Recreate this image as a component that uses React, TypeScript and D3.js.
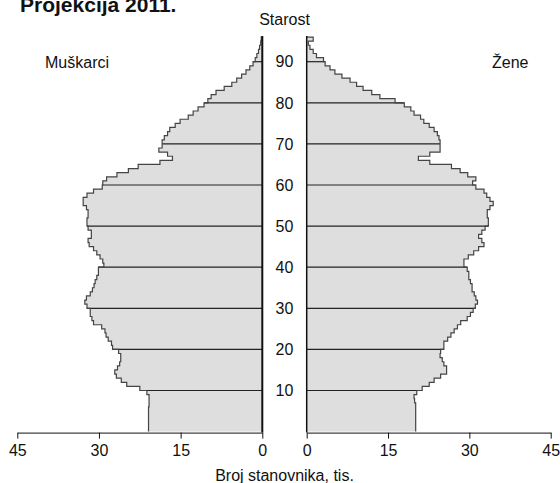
import React, { useEffect, useRef } from "react";
import * as d3 from "d3";

// stanovnistvo po starosti (0..95), u tisucama
const maleValues = [
	20.9, 20.9, 20.9, 20.9, 20.9, 20.9, 20.8, 20.8, 20.8, 21.2,
	22.5, 24.9, 25.9, 26.8, 27.1, 26.6, 26.2, 26.0, 26.0, 26.4,
	27.5, 27.7, 28.3, 28.7, 28.9, 29.5, 31.0, 31.3, 31.6, 31.6,
	32.2, 32.6, 32.3, 31.6, 31.2, 30.9, 30.7, 30.4, 30.1, 30.1,
	29.1, 29.3, 29.8, 30.4, 31.0, 31.8, 32.0, 31.4, 31.4, 32.0,
	32.2, 32.2, 32.0, 32.0, 32.3, 32.9, 32.9, 32.2, 31.0, 29.4,
	29.3, 28.6, 26.7, 24.6, 22.8, 18.8, 16.5, 17.4, 19.0, 18.4,
	18.4, 18.0, 17.4, 17.0, 16.0, 15.1, 13.6, 12.7, 11.8, 10.7,
	10.0, 9.4, 8.5, 7.0, 5.6, 4.7, 3.8, 3.0, 2.3, 1.7,
	1.3, 1.0, 0.7, 0.5, 0.3, 0.2,
];

const femaleValues = [
	20.1, 20.1, 20.1, 20.1, 20.1, 20.1, 20.1, 19.9, 19.8, 20.3,
	21.3, 22.6, 23.5, 24.7, 25.8, 25.8, 25.3, 25.0, 24.6, 24.7,
	25.3, 25.3, 26.0, 26.6, 27.2, 27.8, 28.4, 29.6, 30.2, 30.7,
	31.1, 31.5, 31.2, 30.9, 30.5, 30.5, 30.2, 29.9, 29.9, 29.6,
	29.0, 29.0, 29.8, 30.8, 31.7, 32.7, 32.3, 31.7, 32.3, 32.9,
	33.5, 33.5, 33.3, 33.3, 33.8, 34.4, 33.8, 33.2, 32.7, 31.2,
	30.6, 31.2, 29.7, 28.3, 26.7, 22.7, 20.6, 22.7, 24.6, 24.6,
	24.6, 24.4, 24.1, 23.5, 22.6, 21.6, 21.0, 19.8, 19.2, 18.0,
	16.3, 13.5, 12.0, 10.4, 9.2, 8.0, 6.5, 5.2, 4.3, 3.4,
	3.1, 1.8, 1.2, 0.6, 0.3, 1.2,
];

const ageTicks = [10, 20, 30, 40, 50, 60, 70, 80, 90];
const valueTicks = [0, 15, 30, 45];

export default function App() {
	const ref = useRef(null);

	useEffect(() => {
		const width = 560;
		const height = 483;
		const font = "Arial, 'Liberation Sans', sans-serif";

		const svg = d3.select(ref.current);
		svg.selectAll("*").remove();
		svg.attr("width", width).attr("height", height);

		const y = d3.scaleLinear().domain([0, 90]).range([431.6, 61.7]);
		const xLeft = d3.scaleLinear().domain([0, 45]).range([262.3, 17.3]);
		const xRight = d3.scaleLinear().domain([0, 45]).range([306.7, 550.7]);

		const drawSide = (values, x) => {
			// sentinel at the top so the step closes to the axis
			const pts = values.map((v, i) => ({ age: i, v })).concat([{ age: values.length, v: 0 }]);

			const area = d3
				.area()
				.x0(x(0))
				.x1((d) => x(d.v))
				.y((d) => y(d.age))
				.curve(d3.curveStepBefore);

			const line = d3
				.line()
				.x((d) => x(d.v))
				.y((d) => y(d.age))
				.curve(d3.curveStepBefore);

			svg.append("path").datum(pts).attr("d", area).attr("fill", "#dedede");

			// decade lines
			ageTicks.forEach((a) => {
				const v = Math.max(values[a], values[a - 1]);
				svg
					.append("line")
					.attr("x1", x(0))
					.attr("x2", x(v))
					.attr("y1", y(a))
					.attr("y2", y(a))
					.attr("stroke", "#222")
					.attr("stroke-width", 1.2);
			});

			svg.append("path").datum(pts).attr("d", line).attr("fill", "none").attr("stroke", "#444").attr("stroke-width", 1.2);

			// central vertical axis
			svg
				.append("line")
				.attr("x1", x(0))
				.attr("x2", x(0))
				.attr("y1", y(0) + 1)
				.attr("y2", y(values.length) - 1)
				.attr("stroke", "#111")
				.attr("stroke-width", x === xLeft ? 2 : 1.5);

			const axis = svg
				.append("g")
				.attr("transform", `translate(0,${y(0) + 1})`)
				.call(d3.axisBottom(x).tickValues(valueTicks).tickSize(6).tickSizeOuter(0).tickPadding(6));
			axis.select(".domain").attr("stroke", "#111");
			axis.selectAll(".tick line").attr("stroke", "#111");
			axis.selectAll("text").attr("font-size", 16).attr("font-family", font).attr("fill", "#111");
		};

		drawSide(maleValues, xLeft);
		drawSide(femaleValues, xRight);

		const cx = (xLeft(0) + xRight(0)) / 2;

		svg
			.append("g")
			.selectAll("text")
			.data(ageTicks)
			.enter()
			.append("text")
			.attr("x", cx)
			.attr("y", (d) => y(d))
			.attr("dy", "0.36em")
			.attr("text-anchor", "middle")
			.attr("font-size", 16)
			.attr("font-family", font)
			.attr("fill", "#111")
			.text((d) => d);

		const label = (txt, xx, yy, opts = {}) =>
			svg
				.append("text")
				.attr("x", xx)
				.attr("y", yy)
				.attr("text-anchor", opts.anchor || "start")
				.attr("font-size", opts.size || 16)
				.attr("font-weight", opts.weight || "normal")
				.attr("font-family", font)
				.attr("fill", "#111")
				.text(txt);

		label("Projekcija 2011.", 20, 12, { size: 21, weight: "bold" });
		label("Starost", cx, 25, { anchor: "middle" });
		label("Muškarci", 45, 68);
		label("Žene", 492, 68);
		label("Broj stanovnika, tis.", cx, 481, { anchor: "middle" });
	}, []);

	return <svg ref={ref} style={{ position: "absolute", top: 0, left: 0, display: "block" }} />;
}
